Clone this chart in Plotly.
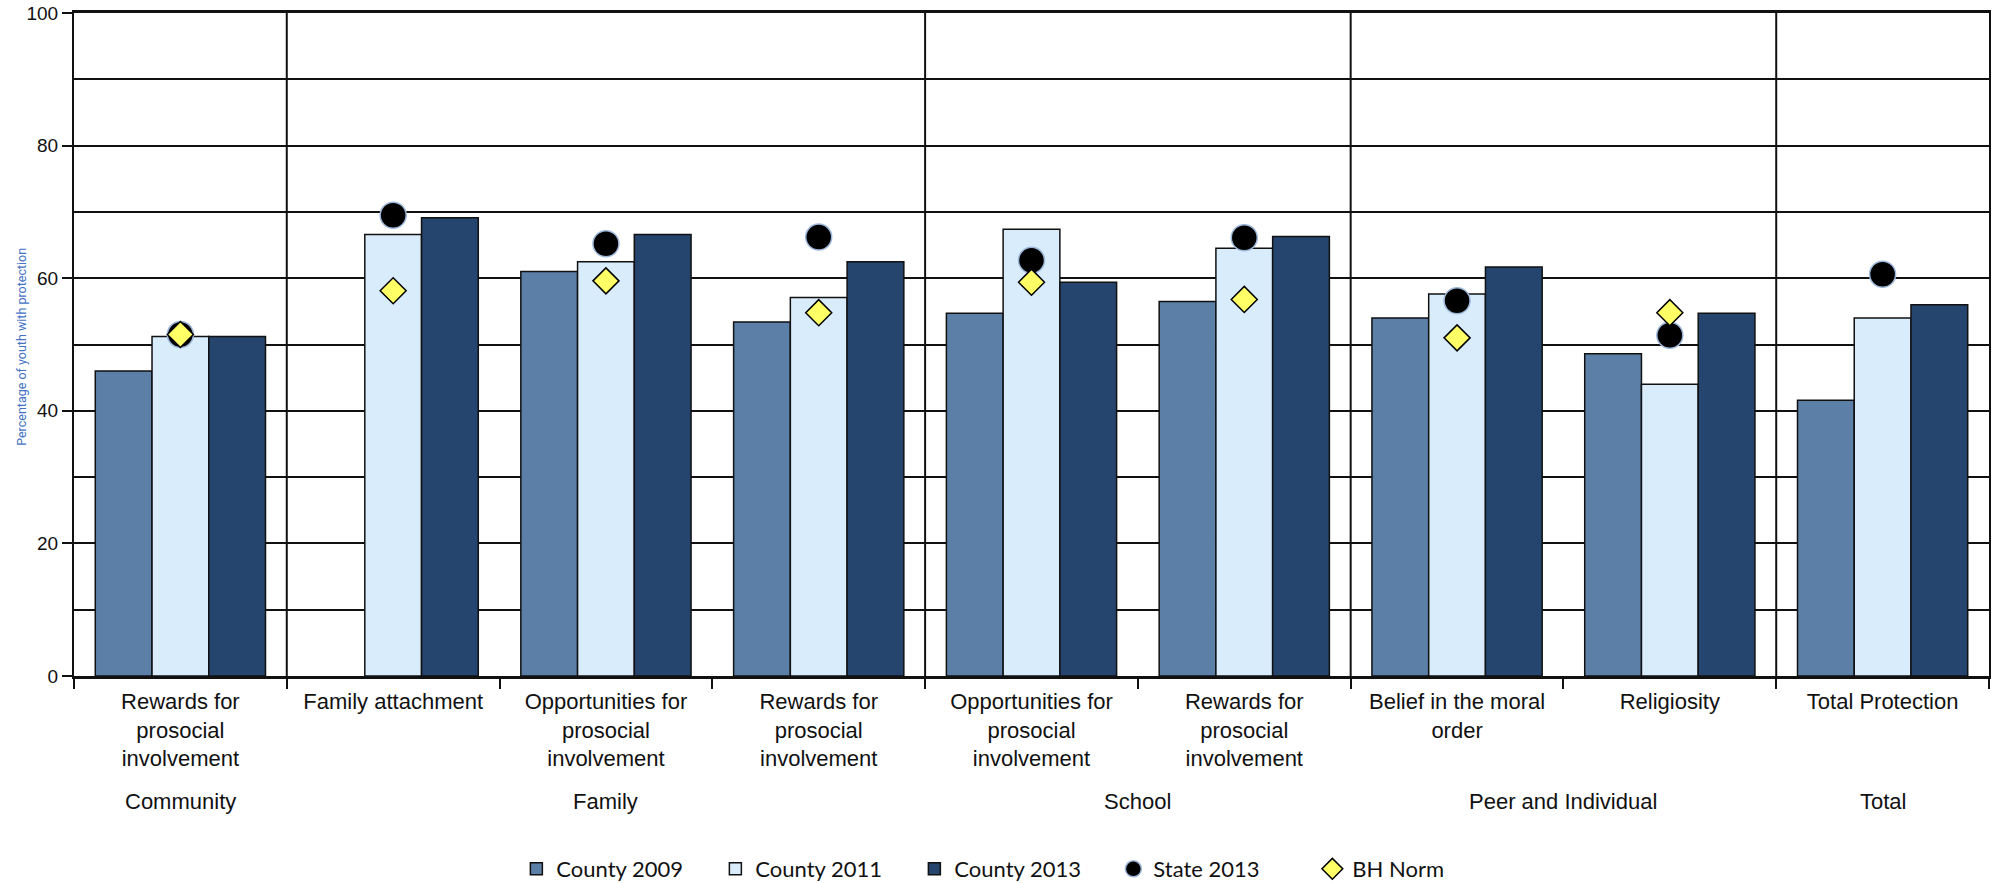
import plotly.graph_objects as go

# categories (x positions are their index)
labels = [
    "Rewards for<br>prosocial<br>involvement",
    "Family attachment",
    "Opportunities for<br>prosocial<br>involvement",
    "Rewards for<br>prosocial<br>involvement",
    "Opportunities for<br>prosocial<br>involvement",
    "Rewards for<br>prosocial<br>involvement",
    "Belief in the moral<br>order",
    "Religiosity",
    "Total Protection",
]
group_names = ["Community", "Family", "School", "Peer and Individual", "Total"]
group_sizes = [1, 3, 2, 2, 1]

county_2009 = [46.0, None, 61.0, 53.4, 54.7, 56.5, 54.0, 48.6, 41.6]
county_2011 = [51.2, 66.6, 62.5, 57.1, 67.4, 64.5, 57.6, 44.0, 54.0]
county_2013 = [51.2, 69.1, 66.6, 62.5, 59.4, 66.3, 61.7, 54.7, 56.0]
state_2013 = [51.5, 69.5, 65.2, 66.2, 62.7, 66.1, 56.6, 51.4, 60.6]
bh_norm = [51.5, 58.1, 59.6, 54.8, 59.4, 56.8, 51.0, 54.8, None]

xpos = list(range(len(labels)))
LABEL_FONT = "Liberation Sans, Arial, sans-serif"

fig = go.Figure()

bars = [
    ("County 2009", county_2009, "#5B7FA7"),
    ("County 2011", county_2011, "#D9ECFC"),
    ("County 2013", county_2013, "#25446E"),
]
for name, vals, col in bars:
    fig.add_trace(go.Bar(
        x=xpos, y=vals, name=name,
        marker=dict(color=col, line=dict(color="#111111", width=1.5)),
    ))

fig.add_trace(go.Scatter(
    x=xpos, y=state_2013, name="State 2013", mode="markers",
    marker=dict(symbol="circle", size=26, color="black",
                line=dict(color="#9DB8DA", width=1.5)),
))
fig.add_trace(go.Scatter(
    x=xpos, y=bh_norm, name="BH Norm", mode="markers",
    marker=dict(symbol="diamond", size=20, color="#FFFF66",
                line=dict(color="black", width=1.5)),
))

# group separators and group labels
boundaries = [i - 0.5 for i in range(len(labels) + 1)]
start = 0
for gname, size in zip(group_names, group_sizes):
    end = start + size
    if end < len(labels):
        fig.add_shape(type="line", x0=end - 0.5, x1=end - 0.5, y0=0, y1=100,
                      xref="x", yref="y", line=dict(color="#111111", width=2))
    fig.add_annotation(x=(start + end - 1) / 2, y=-0.19, xref="x", yref="paper",
                       text=gname, showarrow=False, yanchor="middle",
                       font=dict(family=LABEL_FONT, size=22, color="#111111"))
    start = end

# y axis title
fig.add_annotation(x=-0.0275, y=0.497, xref="paper", yref="paper", textangle=-90,
                   text="Percentage of youth with protection", showarrow=False,
                   xanchor="center", yanchor="middle",
                   font=dict(family="Liberation Sans Narrow, Roboto, sans-serif",
                             size=12.5, color="#4472C4"))

fig.update_layout(
    width=1997, height=883,
    margin=dict(l=74, r=8, t=13, b=207),
    paper_bgcolor="white", plot_bgcolor="white",
    barmode="group", bargap=0.2, bargroupgap=0,
    font=dict(family=LABEL_FONT, color="#111111"),
    legend=dict(orientation="h", x=0.231, xanchor="left",
                yref="container", y=1 - 869 / 883, yanchor="middle",
                font=dict(family="Lato, Open Sans, sans-serif", size=22, color="#111111"),
                entrywidth=154, traceorder="normal"),
    xaxis=dict(
        range=[-0.5, 8.5], tickmode="array", tickvals=xpos, ticktext=labels,
        ticks="", showgrid=False, zeroline=False, automargin=False,
        showline=True, linecolor="#111111", linewidth=2.5, mirror=True,
        ticklabelstandoff=4,
        tickfont=dict(family=LABEL_FONT, size=22, color="#111111"),
        minor=dict(tickmode="array", tickvals=boundaries, ticks="outside",
                   ticklen=10, tickwidth=1.5, tickcolor="#111111", showgrid=False),
    ),
    yaxis=dict(
        range=[0, 100], tickmode="array", tickvals=[0, 20, 40, 60, 80, 100],
        ticks="outside", ticklen=10, tickwidth=1.5, tickcolor="#111111",
        showgrid=True, gridcolor="#111111", gridwidth=1.5, zeroline=False,
        showline=True, linecolor="#111111", linewidth=2, mirror=True, automargin=False,
        minor=dict(dtick=10, tick0=0, showgrid=True, gridcolor="#111111", gridwidth=1.5, ticks=""),
        tickfont=dict(family=LABEL_FONT, size=19, color="#111111"),
    ),
)

fig.write_html("out.html", config={"displayModeBar": False},
               post_script="document.body.style.margin='0';")
